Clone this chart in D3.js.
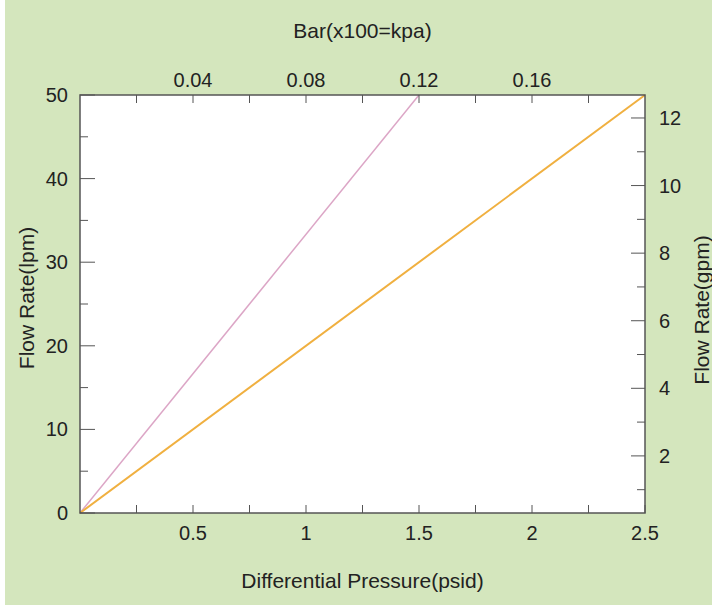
<!DOCTYPE html>
<html>
<head>
<meta charset="utf-8">
<script src="https://cdn.jsdelivr.net/npm/d3@7"></script>
<style>
  body { margin: 0; background: #fff; }
  text { font-family: "Liberation Sans", Arial, sans-serif; fill: #222; }
</style>
</head>
<body>
<div id="chart"></div>
<script>
const width = 712;
const height = 612;
const plotLeft = 80, plotRight = 645, plotTop = 95, plotBottom = 513;

// data
const psiDomain = [0, 2.5];
const barDomain = [0, 0.2];
const lpmDomain = [0, 50];
const gpmDomain = [0.31, 12.68];

const psiTicks = [0.25, 0.5, 0.75, 1, 1.25, 1.5, 1.75, 2, 2.25, 2.5];
const psiLabels = [0.5, 1, 1.5, 2, 2.5];
const barTicks = [0.02, 0.04, 0.06, 0.08, 0.1, 0.12, 0.14, 0.16, 0.18];
const barLabels = [0.04, 0.08, 0.12, 0.16];
const lpmTicks = [0, 5, 10, 15, 20, 25, 30, 35, 40, 45, 50];
const lpmLabels = [0, 10, 20, 30, 40, 50];
const gpmTicks = [1, 2, 3, 4, 5, 6, 7, 8, 9, 10, 11, 12];
const gpmLabels = [2, 4, 6, 8, 10, 12];

const seriesNames = ["pink", "orange"];
const seriesColors = ["#dca6c6", "#f0b040"];
const pinkPsi = [0, 1.5];
const pinkLpm = [0, 50];
const orangePsi = [0, 2.5];
const orangeLpm = [0, 50];

const tickFont = "20px";
const titleFont = "21px";

const svg = d3.select("#chart").append("svg")
    .attr("width", width)
    .attr("height", height);

// green paper background
svg.append("rect")
    .attr("x", 5).attr("y", 0)
    .attr("width", width - 5).attr("height", 605)
    .attr("fill", "#d4e6bd");

svg.append("rect")
    .attr("x", plotLeft).attr("y", plotTop)
    .attr("width", plotRight - plotLeft).attr("height", plotBottom - plotTop)
    .attr("fill", "#ffffff");

const x = d3.scaleLinear().domain(psiDomain).range([plotLeft, plotRight]);
const xTop = d3.scaleLinear().domain(barDomain).range([plotLeft, plotRight]);
const y = d3.scaleLinear().domain(lpmDomain).range([plotBottom, plotTop]);
const yRight = d3.scaleLinear().domain(gpmDomain).range([plotBottom, plotTop]);

const axisColor = "#555";

// lines
const series = [
    { name: seriesNames[0], color: seriesColors[0], pts: pinkPsi.map((p, i) => [p, pinkLpm[i]]) },
    { name: seriesNames[1], color: seriesColors[1], pts: orangePsi.map((p, i) => [p, orangeLpm[i]]) }
];
const line = d3.line().x(d => x(d[0])).y(d => y(d[1]));

svg.append("g").selectAll("path")
    .data(series)
    .enter().append("path")
    .attr("d", d => line(d.pts))
    .attr("fill", "none")
    .attr("stroke", d => d.color)
    .attr("stroke-width", d => d.name === "orange" ? 2 : 1.5);

// frame
svg.append("rect")
    .attr("x", plotLeft).attr("y", plotTop)
    .attr("width", plotRight - plotLeft).attr("height", plotBottom - plotTop)
    .attr("fill", "none")
    .attr("stroke", axisColor)
    .attr("stroke-width", 1.5);

// bottom ticks (inward)
svg.append("g").selectAll("line")
    .data(psiTicks)
    .enter().append("line")
    .attr("x1", d => x(d)).attr("x2", d => x(d))
    .attr("y1", plotBottom).attr("y2", plotBottom - 8)
    .attr("stroke", axisColor);

svg.append("g").selectAll("text")
    .data(psiLabels)
    .enter().append("text")
    .attr("x", d => x(d))
    .attr("y", plotBottom + 27)
    .attr("text-anchor", "middle")
    .style("font-size", tickFont)
    .text(d => d3.format("~g")(d));

// top ticks (inward)
svg.append("g").selectAll("line")
    .data(barTicks)
    .enter().append("line")
    .attr("x1", d => xTop(d)).attr("x2", d => xTop(d))
    .attr("y1", plotTop).attr("y2", plotTop + 8)
    .attr("stroke", axisColor);

svg.append("g").selectAll("text")
    .data(barLabels)
    .enter().append("text")
    .attr("x", d => xTop(d))
    .attr("y", plotTop - 8)
    .attr("text-anchor", "middle")
    .style("font-size", tickFont)
    .text(d => d3.format(".2f")(d));

// left ticks
svg.append("g").selectAll("line")
    .data(lpmTicks)
    .enter().append("line")
    .attr("x1", plotLeft)
    .attr("x2", d => plotLeft + (lpmLabels.includes(d) ? 15 : 8))
    .attr("y1", d => y(d)).attr("y2", d => y(d))
    .attr("stroke", axisColor);

svg.append("g").selectAll("text")
    .data(lpmLabels)
    .enter().append("text")
    .attr("x", plotLeft - 12)
    .attr("y", d => y(d) + 7)
    .attr("text-anchor", "end")
    .style("font-size", tickFont)
    .text(d => d);

// right ticks
svg.append("g").selectAll("line")
    .data(gpmTicks)
    .enter().append("line")
    .attr("x1", plotRight)
    .attr("x2", d => plotRight - (gpmLabels.includes(d) ? 14 : 8))
    .attr("y1", d => yRight(d)).attr("y2", d => yRight(d))
    .attr("stroke", axisColor);

svg.append("g").selectAll("text")
    .data(gpmLabels)
    .enter().append("text")
    .attr("x", plotRight + 14)
    .attr("y", d => yRight(d) + 7)
    .attr("text-anchor", "start")
    .style("font-size", tickFont)
    .text(d => d);

// titles
svg.append("text")
    .attr("x", (plotLeft + plotRight) / 2)
    .attr("y", 38)
    .attr("text-anchor", "middle")
    .style("font-size", titleFont)
    .text("Bar(x100=kpa)");

svg.append("text")
    .attr("x", (plotLeft + plotRight) / 2)
    .attr("y", 588)
    .attr("text-anchor", "middle")
    .style("font-size", titleFont)
    .text("Differential Pressure(psid)");

svg.append("text")
    .attr("transform", "translate(34,298) rotate(-90)")
    .attr("text-anchor", "middle")
    .style("font-size", titleFont)
    .text("Flow Rate(lpm)");

svg.append("text")
    .attr("transform", "translate(709,310) rotate(-90)")
    .attr("text-anchor", "middle")
    .style("font-size", titleFont)
    .text("Flow Rate(gpm)");
</script>
</body>
</html>
